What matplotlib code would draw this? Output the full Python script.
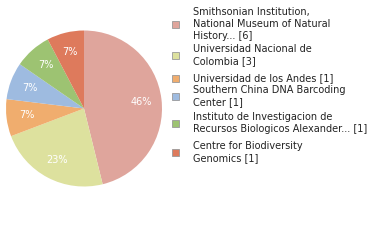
import matplotlib
matplotlib.use("Agg")
import matplotlib.pyplot as plt
from matplotlib.patches import Rectangle
import numpy as np

# Data
labels = [
    "Smithsonian Institution,\nNational Museum of Natural\nHistory... [6]",
    "Universidad Nacional de\nColombia [3]",
    "Universidad de los Andes [1]",
    "Southern China DNA Barcoding\nCenter [1]",
    "Instituto de Investigacion de\nRecursos Biologicos Alexander... [1]",
    "Centre for Biodiversity\nGenomics [1]",
]
counts = [6, 3, 1, 1, 1, 1]
colors = ["#dfa59c", "#dde19e", "#f0ad6e", "#9ebbe0", "#9dc372", "#de7a5c"]

W, H = 380, 240
fig = plt.figure(figsize=(W / 100, H / 100), dpi=100)

# Pie axes: centre (84, 108), radius 78 px
cx, cy, r = 84, 108.5, 78
ax = fig.add_axes([(cx - r) / W, 1 - (cy + r) / H, 2 * r / W, 2 * r / H])
wedges, _ = ax.pie(counts, colors=colors, startangle=90, counterclock=False,
                   radius=1, wedgeprops=dict(linewidth=0))
ax.set_xlim(-1, 1)
ax.set_ylim(-1, 1)
ax.set_aspect("equal")
ax.axis("off")

total = sum(counts)
for w, c in zip(wedges, counts):
    ang = np.deg2rad((w.theta1 + w.theta2) / 2)
    pct = int(c * 100 / total)
    ax.text(0.74 * np.cos(ang), 0.74 * np.sin(ang), f"{pct}%", color="white",
            ha="center", va="center", fontsize=7)

# Legend drawn by hand
marker_y = [24, 55, 78, 96, 123, 152]
for lab, col, my in zip(labels, colors, marker_y):
    fig.patches.append(Rectangle((172 / W, 1 - (my + 3.5) / H), 7 / W, 7 / H,
                                 transform=fig.transFigure, facecolor=col,
                                 edgecolor="#999999", linewidth=0.6))
    fig.text(193 / W, 1 - my / H, lab, ha="left", va="center", fontsize=7,
             color="#222222", linespacing=1.2)

fig.savefig("out.png", dpi=100)
